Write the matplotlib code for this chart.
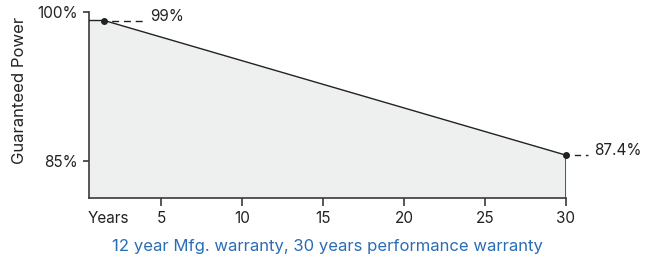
import matplotlib
matplotlib.use("Agg")
import matplotlib.pyplot as plt
from matplotlib.transforms import ScaledTranslation

# data
years = [1.5, 30]
power = [99.0, 87.4]
point_labels = ["99%", "87.4%"]
xtick_vals = [5, 10, 15, 20, 25, 30]
ytick_labels = ["85%", "100%"]
ytick_pos = [86.93, 99.69]
caption = "12 year Mfg. warranty, 30 years performance warranty"

plt.rcParams['font.family'] = ['Inter', 'DejaVu Sans']

fig = plt.figure(figsize=(6.53, 2.59), dpi=100)
ax = fig.add_axes([89/653, 1-198/259, (566-89)/653, (198-12.5)/259])
xmin, xmax = 0.56, 30
ymin, ymax = 83.71, 99.69
ax.set_xlim(xmin, xmax)
ax.set_ylim(ymin, ymax)

line_c = "#222222"
spine_c = "#3a3a3a"
txt_c = "#222222"
fs = 11
fx = [xmin] + years
fy = [power[0]] + power
ax.fill_between(fx, fy, ymin, color="#eef0f0", lw=0, zorder=1)
ax.plot(fx, fy, color=line_c, lw=1.0, zorder=3, solid_capstyle='butt')
ax.vlines(years[-1], ymin, power[-1], color=spine_c, lw=1.2, zorder=3)
ax.scatter(years, power, s=16, color=line_c, zorder=5, clip_on=False)

# dashed leaders & labels
dash = (0, (5, 3.5))
ax.plot([years[0], 3.89], [power[0]]*2, ls=(3, (5, 3.5)), color=line_c, lw=1.0, clip_on=False)
ax.text(4.32, power[0], point_labels[0], ha='left', va='baseline', fontsize=fs, color=txt_c, clip_on=False)
ax.plot([years[1], 31.36], [power[1]]*2, ls=(2, (4.5, 3.5)), color=line_c, lw=1.0, clip_on=False)
ax.text(31.73, power[1], point_labels[1], ha='left', va='baseline', fontsize=fs, color=txt_c, clip_on=False)

for s in ['top', 'right']:
    ax.spines[s].set_visible(False)
for s in ['left', 'bottom']:
    ax.spines[s].set_color(spine_c)
    ax.spines[s].set_linewidth(1.2)

ax.set_xticks(xtick_vals)
ax.set_xticklabels([str(v) for v in xtick_vals])
ax.set_yticks(ytick_pos)
ax.set_yticklabels(ytick_labels)
ax.tick_params(axis='x', length=5.8, width=1.2, color=spine_c, pad=3.5, labelsize=fs, labelcolor=txt_c)
ax.tick_params(axis='y', length=4.3, width=1.2, color=spine_c, pad=4, labelsize=fs, labelcolor=txt_c)

ax.text(1.73, ymin, "Years", ha='center', va='center', fontsize=fs, color=txt_c,
        transform=ax.transData + ScaledTranslation(0, -0.205, fig.dpi_scale_trans))

fig.text(20/653, 1-90/259, "Guaranteed Power", rotation=90, ha='center', va='center', fontsize=12, color=txt_c)
fig.text(327/653, 1-247/259, caption, ha='center', va='center', fontsize=12, color="#2a6db5")

fig.savefig("out.png", dpi=100)
